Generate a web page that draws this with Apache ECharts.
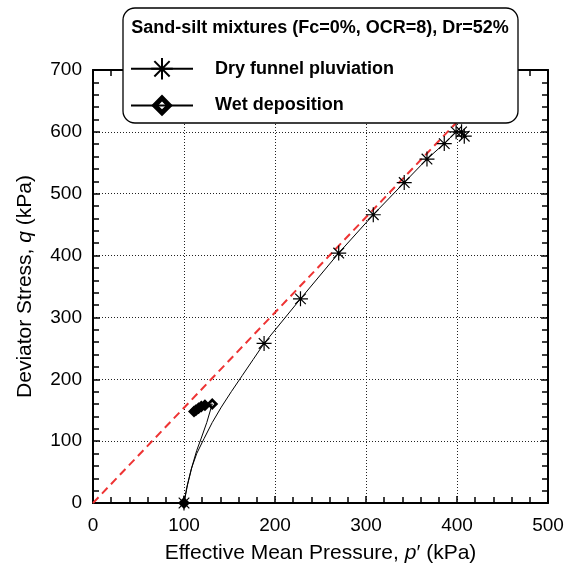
<!DOCTYPE html>
<html><head><meta charset="utf-8">
<script src="https://cdn.jsdelivr.net/npm/echarts@6/dist/echarts.min.js"></script>
<style>html,body{margin:0;padding:0;background:#fff}#c{width:574px;height:563px}</style>
</head><body><div id="c"></div>
<script>
// ---- data ----
const xTickLabels = ['0','100','200','300','400','500'];
const yTickLabels = ['0','100','200','300','400','500','600','700'];
const seriesNames = ['Dry funnel pluviation','Wet deposition'];
const legendTitle = 'Sand-silt mixtures (Fc=0%, OCR=8), Dr=52%';

// Dry funnel pluviation stress path (p', q) ; marked = shows a marker
const dryP = [100,103,108,114,122,131,141,152,164,176,188,228,270,308,342,367,386,399,405,408];
const dryQ = [0,25,55,80,104,130,155,180,206,232,258,330,404,466,518,556,581,600,600,593];
const dryMarked = [1,0,0,0,0,0,0,0,0,0,1,1,1,1,1,1,1,1,1,1];

// Wet deposition stress path
const wetP = [100,104,109,114,119,125,131,123,119,116,113,111];
const wetQ = [0,30,60,85,105,130,160,158,156,153,150,148];
const wetMarker = ['solid','none','none','none','none','none','hollow','solid','solid','solid','solid','solid'];

// Critical state line (dashed red)
const cslP = [0,400];
const cslQ = [0,616];

// ---- chart ----
const FONT = '"Liberation Sans", Arial, sans-serif';
const ASTERISK = 'path://M0,-10L0,10M-10,0L10,0M-7.07,-7.07L7.07,7.07M-7.07,7.07L7.07,-7.07';
const HOLLOW_DIAMOND = 'path://M0,-10L10,0L0,10L-10,0ZM0,-3.5L-3.5,0L0,3.5L3.5,0Z';

const chart = echarts.init(document.getElementById('c'), null, {renderer:'canvas'});

function frameAxis(pos, isX, withLabels){
  const ax = {
    type:'value', min:0, max: isX?500:700, interval:100, position:pos,
    axisLine:{show:true,onZero:false,lineStyle:{color:'#000',width:2}},
    axisTick:{show:true,inside:true,length:7,lineStyle:{color:'#000',width:1.5}},
    minorTick:{show:true,splitNumber:5,length:6,lineStyle:{color:'#000',width:1.5}},
    splitLine:{show:false},
    axisLabel:{show:false}
  };
  if(withLabels){
    const labels = isX?xTickLabels:yTickLabels;
    ax.splitLine = {show:true,lineStyle:{color:'#222',width:1,type:[1,2]}};
    ax.axisLabel = {show:true,color:'#000',fontSize:19,fontFamily:FONT,margin:isX?13:11,
      formatter:(v)=>labels[Math.round(v/100)]};
    ax.nameLocation = 'middle';
    ax.nameTextStyle = {color:'#000',fontSize:21,fontFamily:FONT,
      rich:{n:{fontSize:21,fontFamily:FONT,color:'#000'},i:{fontSize:21,fontFamily:FONT,fontStyle:'italic',color:'#000'}}};
    if(isX){
      ax.name = '{n|Effective Mean Pressure, }{i|p}{n|\u2032 (kPa)}';
      ax.nameGap = 40;
    } else {
      ax.name = '{n|Deviator Stress, }{i|q}{n| (kPa)}';
      ax.nameGap = 57;
    }
  }
  return ax;
}

const dryData = dryP.map((p,i)=> dryMarked[i] ? [p,dryQ[i]] : {value:[p,dryQ[i]], symbol:'none'});
const wetData = wetP.map((p,i)=>{
  const m = wetMarker[i];
  if(m==='none') return {value:[p,wetQ[i]], symbol:'none'};
  if(m==='solid') return {value:[p,wetQ[i]], symbol:'diamond'};
  return [p,wetQ[i]];
});

const option = {
  animation:false,
  backgroundColor:'#fff',
  grid:{left:93,right:26,top:70,bottom:60,containLabel:false,outerBoundsMode:'none'},
  xAxis:[frameAxis('bottom',true,true), frameAxis('top',true,false)],
  yAxis:[frameAxis('left',false,true), frameAxis('right',false,false)],
  legend:{
    data:[seriesNames[0],seriesNames[1]],
    orient:'vertical', left:130, top:57, padding:0,
    itemWidth:62, itemHeight:27, itemGap:14,
    selectedMode:false, z:20,
    textStyle:{fontSize:18,fontWeight:'bold',fontFamily:FONT,color:'#000',padding:[0,0,0,17]}
  },
  graphic:[
    {type:'rect', z:10, shape:{x:123,y:8,width:395,height:115,r:12},
      style:{fill:'#fff',stroke:'#000',lineWidth:1.3}},
    {type:'text', z:11, x:320, y:28,
      style:{text:legendTitle, align:'center', verticalAlign:'middle',
        font:'bold 18px "Liberation Sans", Arial, sans-serif', fill:'#000'}}
  ],
  series:[
    {type:'line', name:'CSL', data:cslP.map((p,i)=>[p,cslQ[i]]), symbol:'none', silent:true, z:1,
      lineStyle:{color:'#ee3333',width:2,type:[8,5]}},
    {type:'line', name:seriesNames[1], data:wetData, symbol:HOLLOW_DIAMOND, symbolSize:12, clip:false,
      itemStyle:{color:'#000',borderWidth:0}, lineStyle:{color:'#000',width:1}, z:3},
    {type:'line', name:seriesNames[0], data:dryData, symbol:ASTERISK, symbolSize:15, clip:false,
      itemStyle:{color:'#000',borderColor:'#000',borderWidth:1.2}, lineStyle:{color:'#000',width:1}, z:4}
  ]
};
chart.setOption(option);
</script></body></html>
